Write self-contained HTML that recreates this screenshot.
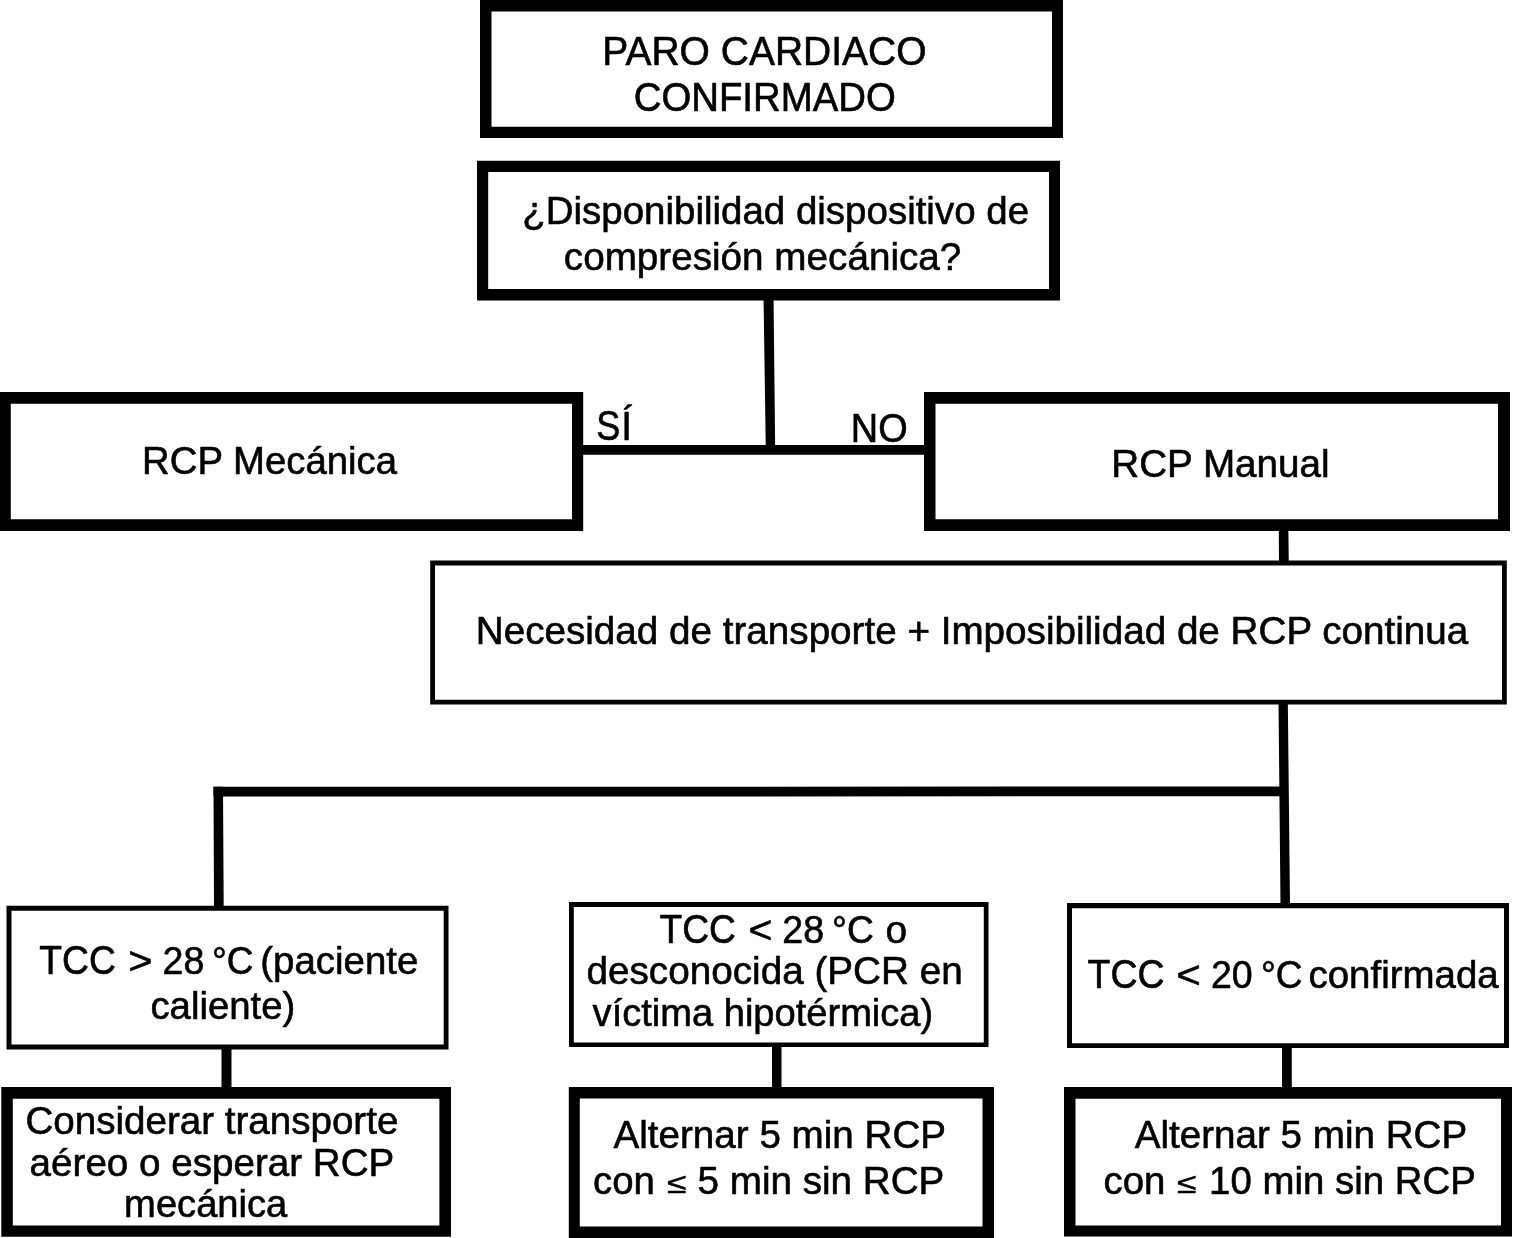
<!DOCTYPE html>
<html><head><meta charset="utf-8"><style>html,body{margin:0;padding:0;background:#fff;width:1513px;height:1238px;overflow:hidden}svg{display:block;filter:grayscale(1)}text{font-family:"Liberation Sans",sans-serif;font-size:38.6px;fill:#000;stroke:#000;stroke-width:0.6px;stroke-linejoin:round}</style></head><body>
<svg width="1513" height="1238" viewBox="0 0 1513 1238">
<rect x="0" y="0" width="1513" height="1238" fill="#fff"/>
<path fill="#000" fill-rule="evenodd" d="M480 -1H1063V138H480ZM491.5 11.5V126.8H1052V11.5ZM477 160.7H1060V300.5H477ZM488.2 172V289H1049V172ZM-1 392H583.2V531H-1ZM10.8 403.7V519.2H572V403.7ZM924 392H1510V531H924ZM935.5 403.7V519.2H1498V403.7ZM430.2 560.5H1506.8V704.5H430.2ZM435 565.5V699.8H1502V565.5ZM6.5 905.8H448.5V1049.5H6.5ZM11.5 910.8V1044.5H443.7V910.8ZM569 902H988.5V1047H569ZM573.8 907V1042.5H983.8V907ZM1067 903H1509V1048H1067ZM1072 908.3V1043.3H1504V908.3ZM1.3 1087H451V1236.7H1.3ZM12.8 1098.7V1225.5H439.4V1098.7ZM568.8 1087H994V1240H568.8ZM579.8 1098.5V1226.5H982.5V1098.5ZM1064 1087H1512V1236.6H1064ZM1075.5 1098.7V1225.5H1501V1098.7Z"/>
<polygon fill="#000" points="763.5,295 773.5,295 775.2,450 765.8,450"/>
<polygon fill="#000" points="575,445 930,445 930,454.7 575,454.7"/>
<polygon fill="#000" points="1278.8,525 1288.3,525 1288.8,565 1279,565"/>
<polygon fill="#000" points="1278.5,700 1287.8,700 1290,905 1280.5,905"/>
<polygon fill="#000" points="213.5,786.8 1285,786.5 1285,796.3 213.5,796.5"/>
<polygon fill="#000" points="213.5,786.8 223,786.8 223.7,908 214,908"/>
<polygon fill="#000" points="221.5,1045 231.5,1045 231.5,1090 221.5,1090"/>
<polygon fill="#000" points="772,1045 781.5,1045 781.5,1090 772,1090"/>
<polygon fill="#000" points="1282,1045 1291.8,1045 1291.8,1090 1282,1090"/>
<text transform="translate(602.27 64.8) scale(1.0104 1.0300)">PARO CARDIACO</text>
<text transform="translate(633.71 110.8) scale(0.9939 1.0300)">CONFIRMADO</text>
<text transform="translate(522.21 223.6) scale(0.9969 1.0000)">¿Disponibilidad dispositivo de</text>
<text transform="translate(563.8 269.9) scale(1.0017 1.0000)">compresión mecánica?</text>
<text transform="translate(596.27 440.3) scale(0.9348 1.0850)">S</text>
<text transform="translate(621.2 440.3) scale(1.0000 1.0300)">Í</text>
<text transform="translate(850.85 442) scale(0.9822 1.0300)">NO</text>
<text transform="translate(142.12 474) scale(0.9932 1.0000)">RCP Mecánica</text>
<text transform="translate(1111.3 476.9) scale(1.0013 1.0000)">RCP Manual</text>
<text transform="translate(475.8 644) scale(1.0010 1.0000)">Necesidad de transporte + Imposibilidad de RCP continua</text>
<text transform="translate(39.3 973.7) scale(0.9653 1.0300)">TCC</text>
<text transform="translate(128.13 973.7) scale(1.0750 1.0000)">&gt;</text>
<text transform="translate(162.53 973.7) scale(0.9739 1.0000)">28</text>
<text transform="translate(212.09 973.7) scale(0.9573 1.0000)">°C</text>
<text transform="translate(260.31 973.7) scale(0.9952 1.0000)">(paciente</text>
<text transform="translate(150.41 1019.2) scale(0.9939 1.0000)">caliente)</text>
<text transform="translate(659.6 942.5) scale(0.9627 1.0300)">TCC</text>
<text transform="translate(748.44 942.5) scale(1.0600 1.0000)">&lt;</text>
<text transform="translate(782.33 942.5) scale(0.9739 1.0000)">28</text>
<text transform="translate(832.08 942.5) scale(0.9622 1.0000)">°C</text>
<text transform="translate(885.39 942.5) scale(1.0053 1.0000)">o</text>
<text transform="translate(586.5 984) scale(1.0024 1.0000)">desconocida (PCR en</text>
<text transform="translate(592.6 1025.7) scale(0.9866 1.0000)">víctima hipotérmica)</text>
<text transform="translate(1087.6 987.5) scale(0.9704 1.0300)">TCC</text>
<text transform="translate(1176.31 987.5) scale(1.0900 1.0000)">&lt;</text>
<text transform="translate(1210.93 987.5) scale(0.9739 1.0000)">20</text>
<text transform="translate(1260.88 987.5) scale(0.9597 1.0000)">°C</text>
<text transform="translate(1308.5 987.5) scale(0.9959 1.0000)">confirmada</text>
<text transform="translate(25.4 1134.3) scale(0.9993 1.0000)">Considerar transporte</text>
<text transform="translate(29.6 1175.6) scale(1.0003 1.0000)">aéreo o esperar RCP</text>
<text transform="translate(124.12 1217.4) scale(0.9881 1.0000)">mecánica</text>
<text transform="translate(613.5 1147.8) scale(1.0004 1.0000)">Alternar 5 min RCP</text>
<text transform="translate(593.01 1193.6) scale(0.9924 1.0000)">con</text>
<text transform="translate(666.98 1192.8) scale(0.9158 0.7400)">≤</text>
<text transform="translate(697.5 1193.6) scale(1.0012 1.0000)">5 min sin RCP</text>
<text transform="translate(1134.7 1147.8) scale(1.0001 1.0000)">Alternar 5 min RCP</text>
<text transform="translate(1103.51 1193.6) scale(0.9941 1.0000)">con</text>
<text transform="translate(1177.08 1192.8) scale(0.9158 0.7400)">≤</text>
<text transform="translate(1209.11 1193.6) scale(0.9948 1.0000)">10 min sin RCP</text>
</svg>
</body></html>
